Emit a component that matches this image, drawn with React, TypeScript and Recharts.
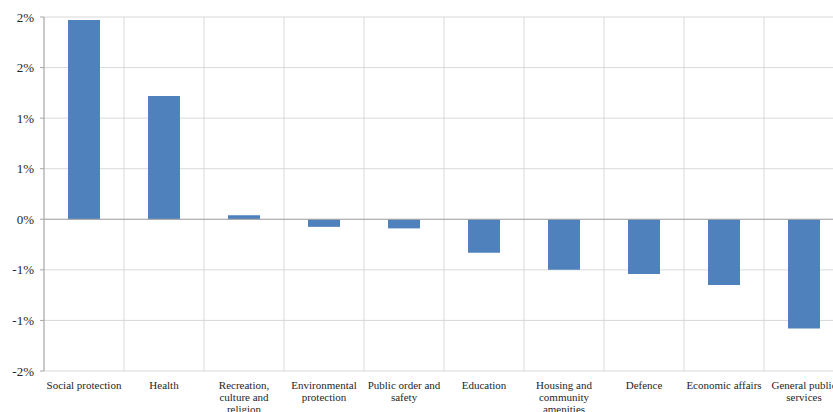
import React from 'react';
import { BarChart, Bar, XAxis, YAxis, CartesianGrid, ReferenceLine } from 'recharts';

const categories = [
  'Social protection',
  'Health',
  'Recreation,\nculture and\nreligion',
  'Environmental\nprotection',
  'Public order and\nsafety',
  'Education',
  'Housing and\ncommunity\namenities',
  'Defence',
  'Economic affairs',
  'General public\nservices',
];
const values = [1.97, 1.22, 0.04, -0.075, -0.09, -0.33, -0.5, -0.54, -0.65, -1.08];
const yTicks = [-1.5, -1, -0.5, 0, 0.5, 1, 1.5, 2];
const gridTicks = [0, 1, 2, 3, 4, 5, 6, 7, 8, 9, 10];

const data = categories.map((c, i) => ({ name: c, value: values[i], pos: i + 0.5 }));

const fmt = (v: number) => {
  const r = Math.sign(v) * Math.round(Math.abs(v));
  return `${r === 0 ? 0 : r}%`;
};

const FONT = '"Liberation Serif", "DejaVu Serif", serif';

const CatTick = (props: any) => {
  const { x, y, payload } = props;
  const lines = String(payload.value).split('\n');
  return (
    <g transform={`translate(${x},${y})`}>
      <text textAnchor="middle" fontFamily={FONT} fontSize={11} fill="#262626">
        {lines.map((l, i) => (
          <tspan key={i} x={0} dy={i === 0 ? 9.5 : 12}>{l}</tspan>
        ))}
      </text>
    </g>
  );
};

export default function App() {
  return (
    <div style={{ position: 'absolute', left: 0, top: 0, width: 833, height: 412, overflow: 'hidden', background: '#fff' }}>
      <BarChart
        width={850}
        height={412}
        data={data}
        margin={{ top: 17, right: 6, bottom: 0, left: 0 }}
        barCategoryGap="30%"
      >
        <CartesianGrid stroke="#D9D9D9" xAxisId="grid" />
        <XAxis
          xAxisId="grid"
          type="number"
          dataKey="pos"
          domain={[0, 10]}
          ticks={gridTicks}
          hide
        />
        <XAxis
          dataKey="name"
          height={41}
          axisLine={false}
          tickLine={false}
          interval={0}
          tick={<CatTick />}
        />
        <YAxis
          width={44}
          domain={[-1.5, 2]}
          ticks={yTicks}
          tickFormatter={fmt}
          axisLine={{ stroke: '#A6A6A6' }}
          tickLine={{ stroke: '#A6A6A6' }}
          tickSize={4}
          tickMargin={6}
          tick={{ fontFamily: FONT, fontSize: 13, fill: '#262626' }}
          interval={0}
        />
        <ReferenceLine y={0} stroke="#A6A6A6" />
        <Bar dataKey="value" fill="#4F81BD" isAnimationActive={false} />
      </BarChart>
    </div>
  );
}
